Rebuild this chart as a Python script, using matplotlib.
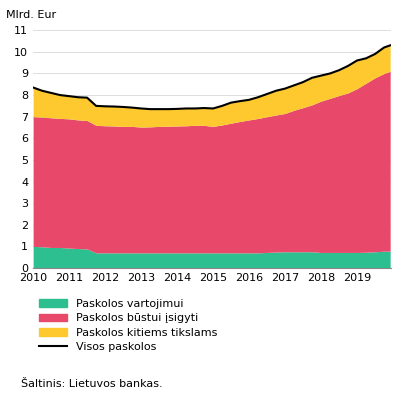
import matplotlib
matplotlib.use("Agg")
import matplotlib.pyplot as plt
import numpy as np
from matplotlib.patches import Patch
from matplotlib.lines import Line2D

years = [2010 + i * 0.25 for i in range(40)] + [2019.92]
vartojimui = [1.0,0.98,0.95,0.95, 0.92,0.9,0.88,0.7,
              0.7,0.7,0.7,0.7, 0.7,0.7,0.7,0.7, 0.7,0.7,0.7,0.7,
              0.7,0.7,0.7,0.7, 0.7,0.7,0.72,0.74, 0.75,0.75,0.75,0.75,
              0.72,0.72,0.72,0.72, 0.72,0.73,0.75,0.78, 0.78]
bustui_top = [7.0,6.98,6.95,6.92, 6.9,6.85,6.82,6.6, 6.58,6.57,6.55,6.55,
              6.52,6.53,6.55,6.56, 6.57,6.58,6.6,6.6, 6.55,6.62,6.7,6.78,
              6.85,6.92,7.0,7.08, 7.15,7.3,7.42,7.55, 7.72,7.85,7.98,8.1,
              8.3,8.55,8.8,9.0, 9.1]
visos = [8.35,8.2,8.1,8.0, 7.95,7.9,7.88,7.5, 7.48,7.47,7.45,7.42,
         7.38,7.35,7.35,7.35, 7.36,7.38,7.38,7.4, 7.38,7.5,7.65,7.72,
         7.78,7.9,8.05,8.2, 8.3,8.45,8.6,8.8, 8.9,9.0,9.15,9.35,
         9.6,9.7,9.9,10.2, 10.3]
xticks = list(range(2010, 2020))

green, red, yellow = "#2dbf8f", "#e8486a", "#fdc92f"
x = np.array(years)
fig = plt.figure(figsize=(4.14, 4.03), dpi=100)
ax = fig.add_axes([0.08, 0.335, 0.865, 0.59])
ax.fill_between(x, 0, vartojimui, color=green, lw=0)
ax.fill_between(x, vartojimui, bustui_top, color=red, lw=0)
ax.fill_between(x, bustui_top, visos, color=yellow, lw=0)
ax.plot(x, visos, color="black", lw=1.5)
ax.set_xlim(2010, 2019.95)
ax.set_ylim(0, 11)
ax.set_yticks(range(12))
ax.set_xticks(xticks)
ax.tick_params(labelsize=8, length=0)
ax.grid(axis="y", color="#dddddd", lw=0.7)
ax.set_axisbelow(True)
for s in ["top", "right", "left"]:
    ax.spines[s].set_visible(False)
ax.spines["bottom"].set_color("#888888")
fig.text(0.015, 0.955, "Mlrd. Eur", fontsize=8)
handles = [Patch(color=green), Patch(color=red), Patch(color=yellow),
           Line2D([0], [0], color="black", lw=1.5)]
labels = ["Paskolos vartojimui", "Paskolos būstui įsigyti",
          "Paskolos kitiems tikslams", "Visos paskolos"]
fig.legend(handles, labels, loc="upper left", bbox_to_anchor=(0.07, 0.283),
           frameon=False, fontsize=8, handlelength=2.5, labelspacing=0.4)
fig.text(0.05, 0.04, "Šaltinis: Lietuvos bankas.", fontsize=8)
fig.savefig("out.png", dpi=100)
